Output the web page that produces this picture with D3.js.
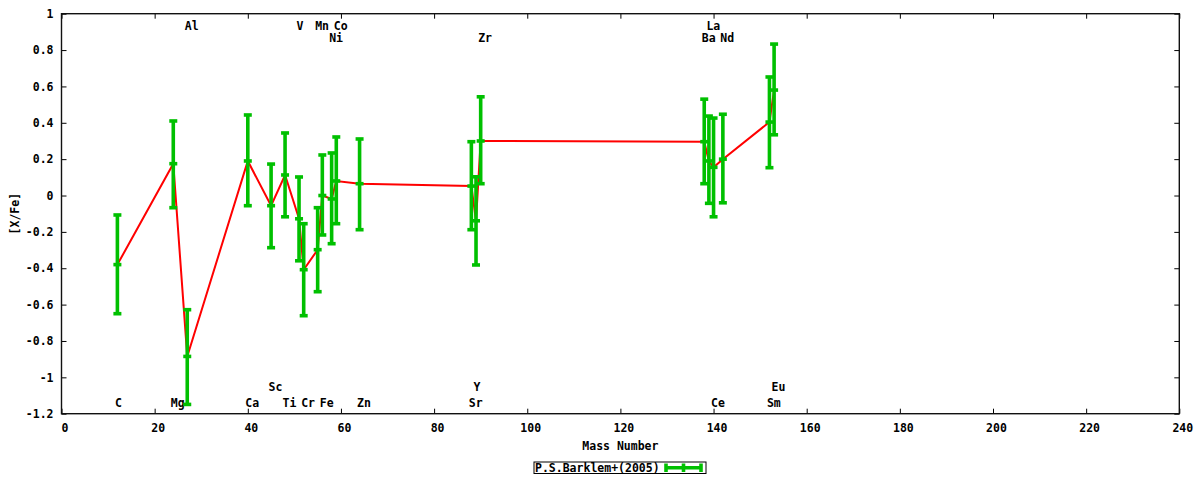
<!DOCTYPE html>
<html lang="en">
<head>
    <meta charset="UTF-8">
    <title>[X/Fe] vs Mass Number</title>
    <script src="https://d3js.org/d3.v7.min.js"></script>
    <style>
        body {
            margin: 0;
            background: #ffffff;
        }

        svg text {
            font-family: "DejaVu Sans Mono", "Liberation Mono", monospace;
            font-weight: bold;
            font-size: 11.5px;
            fill: #000000;
        }

        .tick line {
            stroke: #000000;
            stroke-width: 1px;
        }

        .frame {
            fill: none;
            stroke: #111111;
            stroke-width: 1.4px;
        }

        .model {
            fill: none;
            stroke: #ff0000;
            stroke-width: 2px;
        }

        .err {
            stroke: #00c000;
            stroke-width: 3.6px;
            fill: none;
        }
    </style>
</head>
<body>
<div id="chart"></div>

<script>
    // elements in order of mass number
    var elements    = ["C", "Mg", "Al", "Ca", "Sc", "Ti", "V", "Cr", "Mn", "Fe", "Ni",
                       "Co", "Zn", "Sr", "Y", "Zr", "Ba", "La", "Ce", "Nd", "Sm", "Eu"];
    var massNumbers = [12, 24, 27, 40, 45, 48, 51, 52, 55, 56, 58,
                       59, 64, 88, 89, 90, 138, 139, 140, 142, 152, 153];
    var xFe         = [-0.38, 0.175, -0.885, 0.19, -0.056, 0.113, -0.128, -0.408, -0.298, 0.0, -0.019,
                       0.08, 0.065, 0.052, -0.139, 0.30, 0.296, 0.19, 0.155, 0.20, 0.404, 0.58];
    var xFeLow      = [-0.65, -0.067, -1.149, -0.056, -0.287, -0.117, -0.359, -0.661, -0.529, -0.217, -0.265,
                       -0.155, -0.188, -0.188, -0.382, 0.065, 0.065, -0.043, -0.117, -0.04, 0.153, 0.334];
    var xFeHigh     = [-0.107, 0.41, -0.628, 0.443, 0.173, 0.344, 0.102, -0.155, -0.067, 0.223, 0.234,
                       0.322, 0.311, 0.296, 0.103, 0.543, 0.53, 0.437, 0.426, 0.447, 0.652, 0.833];
    // where each element name sits: top, second from top, bottom, second from bottom
    var labelRows   = ["b", "b", "t", "b", "b2", "b", "t", "b", "t", "b", "t2",
                       "t", "b", "b", "b2", "t2", "t2", "t", "b", "t2", "b", "b2"];

    var xTicks = [0, 20, 40, 60, 80, 100, 120, 140, 160, 180, 200, 220, 240];
    var yTicks = [-1.2, -1, -0.8, -0.6, -0.4, -0.2, 0, 0.2, 0.4, 0.6, 0.8, 1];
    var seriesName = "P.S.Barklem+(2005)";

    function init() {
        var w = 1200;
        var h = 480;
        var left = 61.5, right = 1179.3, top = 13.7, bottom = 413.7;

        var dataset = elements.map(function(el, i) {
            return {
                name: el,
                mass: massNumbers[i],
                value: xFe[i],
                low: xFeLow[i],
                high: xFeHigh[i],
                row: labelRows[i]
            };
        });

        var xScale = d3.scaleLinear()
            .domain([0, 240])
            .range([left, right]);

        var yScale = d3.scaleLinear()
            .domain([-1.2, 1])
            .range([bottom, top]);

        var svg = d3.select("#chart")
            .append("svg")
            .attr("width", w)
            .attr("height", h);

        var fmt = function(d) { return String(+d.toFixed(1)); };

        // axes with inward ticks, mirrored on top and right
        var xAxis = svg.append("g")
            .attr("transform", "translate(0," + bottom + ")")
            .call(d3.axisBottom(xScale).tickValues(xTicks).tickSize(-5).tickFormat(fmt));
        xAxis.select(".domain").remove();
        xAxis.selectAll(".tick text").attr("x", 3).attr("y", 18).attr("dy", 0);

        var yAxis = svg.append("g")
            .attr("transform", "translate(" + left + ",0)")
            .call(d3.axisLeft(yScale).tickValues(yTicks).tickSize(-5).tickPadding(8).tickFormat(fmt));
        yAxis.select(".domain").remove();

        var xTop = svg.append("g")
            .attr("transform", "translate(0," + top + ")")
            .call(d3.axisTop(xScale).tickValues(xTicks).tickSize(-5).tickFormat(""));
        xTop.select(".domain").remove();

        var yRight = svg.append("g")
            .attr("transform", "translate(" + right + ",0)")
            .call(d3.axisRight(yScale).tickValues(yTicks).tickSize(-5).tickFormat(""));
        yRight.select(".domain").remove();

        svg.selectAll(".tick text")
            .attr("font-family", null)
            .attr("font-size", null);

        // element names
        var rowValue = { t: 0.91, t2: 0.845, b2: -1.075, b: -1.163 };
        svg.selectAll(".elem")
            .data(dataset)
            .enter()
            .append("text")
            .attr("class", "elem")
            .attr("x", function(d) { return xScale(d.mass) - 2.5; })
            .attr("y", function(d) { return yScale(rowValue[d.row]); })
            .text(function(d) { return d.name; });

        // red line through the points
        var line = d3.line()
            .x(function(d) { return xScale(d.mass); })
            .y(function(d) { return yScale(d.value); });

        svg.append("path")
            .datum(dataset)
            .attr("class", "model")
            .attr("d", line);

        // error bars
        var capW = 4;
        var bars = svg.selectAll(".bar")
            .data(dataset)
            .enter()
            .append("g")
            .attr("class", "err");

        bars.append("line")
            .attr("x1", function(d) { return xScale(d.mass); })
            .attr("x2", function(d) { return xScale(d.mass); })
            .attr("y1", function(d) { return yScale(d.low); })
            .attr("y2", function(d) { return yScale(d.high); });

        ["low", "value", "high"].forEach(function(key) {
            bars.append("line")
                .attr("x1", function(d) { return xScale(d.mass) - capW; })
                .attr("x2", function(d) { return xScale(d.mass) + capW; })
                .attr("y1", function(d) { return yScale(d[key]); })
                .attr("y2", function(d) { return yScale(d[key]); });
        });

        // frame
        svg.append("rect")
            .attr("class", "frame")
            .attr("x", left)
            .attr("y", top)
            .attr("width", right - left)
            .attr("height", bottom - top);

        // axis titles
        svg.append("text")
            .attr("x", (left + right) / 2)
            .attr("y", 450)
            .attr("text-anchor", "middle")
            .text("Mass Number");

        svg.append("text")
            .attr("transform", "translate(18.5," + ((top + bottom) / 2) + ") rotate(-90)")
            .attr("text-anchor", "middle")
            .text("[X/Fe]");

        // legend
        var legend = svg.append("g");
        legend.append("rect")
            .attr("x", 534)
            .attr("y", 462)
            .attr("width", 172)
            .attr("height", 11.5)
            .attr("fill", "none")
            .attr("stroke", "#000")
            .attr("stroke-width", 1);

        legend.append("text")
            .attr("x", 535)
            .attr("y", 471.8)
            .text(seriesName);

        var sym = legend.append("g").attr("class", "err");
        sym.append("line")
            .attr("x1", 666).attr("x2", 701)
            .attr("y1", 467.7).attr("y2", 467.7);
        [666, 683.5, 701].forEach(function(px) {
            sym.append("line")
                .attr("x1", px).attr("x2", px)
                .attr("y1", 463.5).attr("y2", 472);
        });
    }

    init();
</script>
</body>
</html>
